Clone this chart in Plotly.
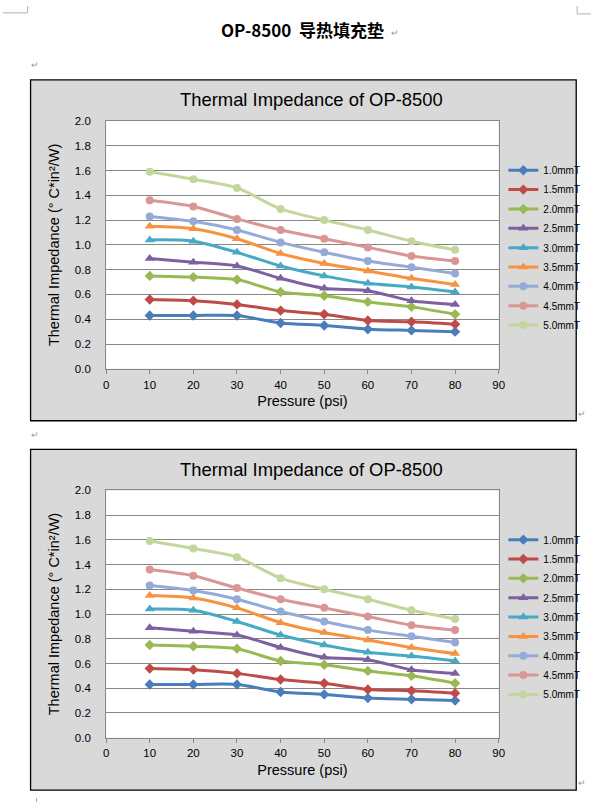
import plotly.graph_objects as go

# pressure (psi) and thermal impedance per thickness
pressure = [10, 20, 30, 40, 50, 60, 70, 80]
thickness = ["1.0mmT", "1.5mmT", "2.0mmT", "2.5mmT", "3.0mmT",
             "3.5mmT", "4.0mmT", "4.5mmT", "5.0mmT"]
imp_10 = [0.43, 0.43, 0.43, 0.37, 0.35, 0.32, 0.31, 0.30]
imp_15 = [0.56, 0.55, 0.52, 0.47, 0.44, 0.39, 0.38, 0.36]
imp_20 = [0.75, 0.74, 0.72, 0.62, 0.59, 0.54, 0.50, 0.44]
imp_25 = [0.89, 0.86, 0.83, 0.73, 0.65, 0.63, 0.55, 0.52]
imp_30 = [1.04, 1.03, 0.94, 0.83, 0.75, 0.69, 0.66, 0.62]
imp_35 = [1.15, 1.13, 1.05, 0.93, 0.85, 0.79, 0.73, 0.68]
imp_40 = [1.23, 1.19, 1.12, 1.02, 0.94, 0.87, 0.82, 0.77]
imp_45 = [1.36, 1.31, 1.21, 1.12, 1.05, 0.98, 0.91, 0.87]
imp_50 = [1.59, 1.53, 1.46, 1.29, 1.20, 1.12, 1.03, 0.96]
values = [imp_10, imp_15, imp_20, imp_25, imp_30, imp_35, imp_40, imp_45, imp_50]

colors = ["#4a7ebb", "#be4b48", "#98b954", "#7d60a0", "#46aac5",
          "#f69240", "#94abd8", "#da9694", "#c3d69b"]
symbols = ["diamond"] * 3 + ["triangle-up"] * 3 + ["circle"] * 3
sizes = [8, 8, 8, 9, 9, 9, 8, 8, 8]

W, H = 597, 808
FONT = "Arial, Liberation Sans, sans-serif"


def px(x):
    return x / W


def py(y):
    return 1 - y / H


def note(text, x, y, size, color="black", family=FONT):
    return dict(text=text, xref="paper", yref="paper", x=px(x), y=py(y),
                xanchor="center", yanchor="middle", showarrow=False,
                font=dict(family=family, size=size, color=color))


fig = go.Figure()

# 两个相同的图表（文档截图中上下各一个）
charts = [
    dict(xa="x", ya="y", leg="legend", top=75, ptop=116.7, pbot=368.3),
    dict(xa="x2", ya="y2", leg="legend2", top=450, ptop=491.7, pbot=742.7),
]

shapes = []
annotations = []
for k, c in enumerate(charts):
    for name, vals, col, sym, sz in zip(thickness, values, colors, symbols, sizes):
        fig.add_trace(go.Scatter(
            x=pressure, y=vals, name=name, mode="lines+markers",
            line=dict(color=col, width=3, shape="spline", smoothing=0.8),
            marker=dict(symbol=sym, size=sz, color=col),
            xaxis=c["xa"], yaxis=c["ya"], legend=c["leg"],
            legendgroup=name + str(k),
        ))
    # chart box and plot area
    shapes.append(dict(type="rect", xref="paper", yref="paper",
                       x0=px(28), x1=px(582), y0=py(c["top"] + 346), y1=py(c["top"]),
                       fillcolor="#d9d9d9", line=dict(color="black", width=1.3),
                       layer="below"))
    shapes.append(dict(type="rect", xref="paper", yref="paper",
                       x0=px(104.7), x1=px(503.3), y0=py(c["pbot"]), y1=py(c["ptop"]),
                       fillcolor="white", line=dict(width=0), layer="below"))
    annotations.append(note("Thermal Impedance of OP-8500", 313, c["top"] + 20, 18.4))
    annotations.append(note("↵", 588, c["top"] + 339, 9, "#999999"))
    annotations.append(note("↵", 32, c["top"] - 15, 9, "#999999"))

axis_common = dict(showline=True, mirror=True, linecolor="#868686", linewidth=1,
                   gridcolor="#868686", gridwidth=1, zeroline=False,
                   tickfont=dict(family=FONT, size=11.5, color="black"))

layout_axes = {}
for k, c in enumerate(charts):
    sx = "" if k == 0 else str(k + 1)
    layout_axes["xaxis" + sx] = dict(
        axis_common, domain=[px(104.7), px(503.3)], anchor="y" + sx,
        range=[0, 90], dtick=10, tick0=0, showgrid=False,
        ticks="outside", ticklen=4, tickcolor="#868686", ticklabelstandoff=1,
        title=dict(text="Pressure (psi)", standoff=6,
                   font=dict(family=FONT, size=14.5, color="black")))
    layout_axes["yaxis" + sx] = dict(
        axis_common, domain=[py(c["pbot"]), py(c["ptop"])], anchor="x" + sx,
        range=[0, 2.0], dtick=0.2, tick0=0, tickformat=".1f",
        ticklabelstandoff=12,
        title=dict(text="Thermal Impedance (° C*in²/W)", standoff=11,
                   font=dict(family=FONT, size=14.5, color="black")))

legend_common = dict(font=dict(family=FONT, size=10, color="black"),
                     bgcolor="rgba(0,0,0,0)", borderwidth=0, itemwidth=30,
                     xanchor="left", yanchor="top", tracegroupgap=0.35)

# page decorations
annotations.append(note("<b>OP-8500\u00a0\u00a0导热填充垫</b>", 304, 24, 17,
                        family="Noto Sans CJK SC"))
annotations.append(note("↵", 398, 27, 9, "#999999"))
for x0, y0, x1, y1 in [(0, 7, 25, 7), (25, 0, 25, 7), (583, 0, 583, 8), (583, 8, 597, 8),
                       (34, 804, 34, 808)]:
    shapes.append(dict(type="line", xref="paper", yref="paper",
                       x0=px(x0), y0=py(y0), x1=px(x1), y1=py(y1),
                       line=dict(color="#b0b0b0", width=1)))

fig.update_layout(
    width=W, height=H, margin=dict(l=0, r=0, t=0, b=0),
    paper_bgcolor="white", plot_bgcolor="white",
    font=dict(family=FONT),
    shapes=shapes, annotations=annotations,
    legend=dict(legend_common, x=px(508), y=py(152)),
    legend2=dict(legend_common, x=px(508), y=py(527)),
    **layout_axes,
)

fig.write_html("out.html", config={"displayModeBar": False},
               post_script="document.body.style.margin='0';document.body.style.overflow='hidden';")
